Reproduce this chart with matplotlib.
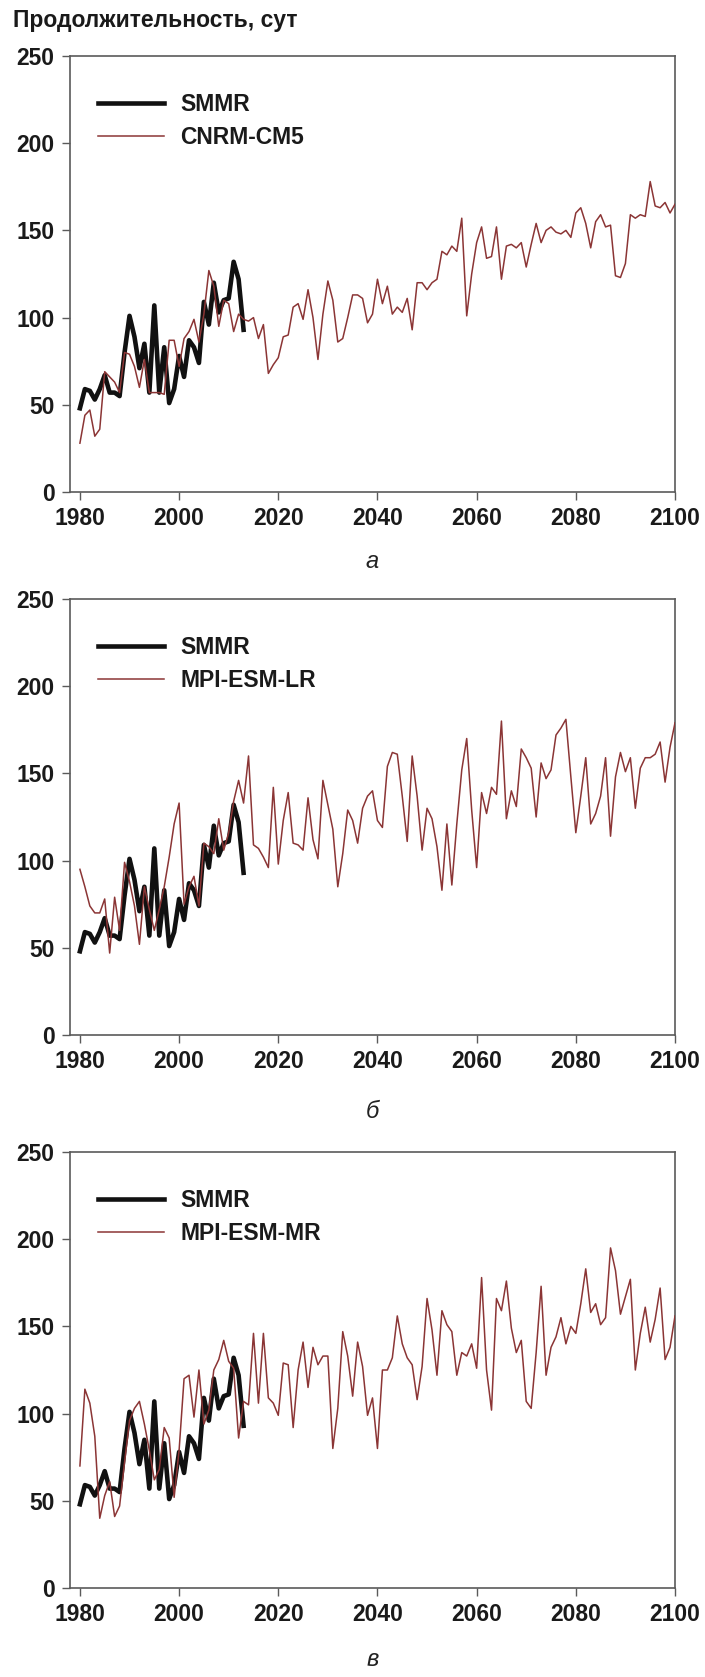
import numpy as np
import matplotlib
matplotlib.use("Agg")
import matplotlib.pyplot as plt

# =====================================
# Duration series: SMMR vs CMIP5 models
# =====================================

plt.rcParams['font.family'] = ['Liberation Sans', 'DejaVu Sans']

years_obs = np.arange(1980, 2014)
years_model = np.arange(1980, 2101)

# SMMR observations (same in all panels)
smmr = [48, 59, 58, 53, 59, 67, 57, 57, 55, 80,
        101, 89, 71, 85, 57, 107, 57, 83, 51, 59,
        78, 66, 87, 83, 74, 109, 96, 120, 103, 110,
        111, 132, 122, 93]

# CNRM-CM5
cnrm = [28, 44, 47, 32, 36, 69, 66, 63, 57, 80,
        79, 72, 60, 76, 57, 57, 57, 56, 87, 87,
        72, 88, 92, 99, 86, 102, 127, 118, 95, 110,
        108, 92, 102, 99, 98, 100, 88, 96, 68, 73,
        77, 89, 90, 106, 108, 99, 116, 100, 76, 102,
        121, 110, 86, 88, 100, 113, 113, 111, 97, 102,
        122, 108, 118, 102, 106, 103, 111, 93, 120, 120,
        116, 120, 122, 138, 136, 141, 138, 157, 101, 125,
        143, 152, 134, 135, 152, 122, 141, 142, 140, 143,
        129, 142, 154, 143, 150, 152, 149, 148, 150, 146,
        160, 163, 154, 140, 155, 159, 152, 153, 124, 123,
        131, 159, 157, 159, 158, 178, 164, 163, 166, 160,
        165]

# MPI-ESM-LR
mpi_lr = [95, 85, 74, 70, 70, 78, 47, 79, 60, 99,
          88, 74, 52, 85, 72, 60, 72, 85, 102, 121,
          133, 75, 85, 91, 74, 110, 108, 104, 124, 106,
          116, 134, 146, 133, 160, 109, 107, 102, 96, 142,
          98, 123, 139, 110, 109, 106, 136, 112, 101, 146,
          132, 118, 85, 104, 129, 123, 110, 130, 137, 140,
          123, 119, 154, 162, 161, 137, 111, 160, 137, 106,
          130, 124, 108, 83, 121, 86, 121, 152, 170, 129,
          96, 139, 127, 142, 138, 180, 124, 140, 131, 164,
          159, 153, 125, 156, 147, 152, 172, 176, 181, 148,
          116, 137, 159, 121, 127, 137, 159, 114, 148, 162,
          151, 159, 130, 153, 159, 159, 161, 168, 145, 165,
          179]

# MPI-ESM-MR
mpi_mr = [70, 114, 106, 87, 40, 53, 61, 41, 47, 72,
          96, 103, 107, 94, 79, 62, 68, 92, 86, 52,
          79, 120, 122, 98, 125, 94, 102, 125, 131, 142,
          130, 126, 86, 107, 105, 146, 106, 146, 109, 106,
          99, 129, 128, 92, 125, 141, 115, 138, 128, 133,
          133, 80, 103, 147, 133, 110, 141, 127, 99, 109,
          80, 125, 125, 132, 156, 140, 132, 128, 108, 127,
          166, 148, 122, 159, 151, 147, 122, 135, 133, 140,
          126, 178, 125, 102, 166, 159, 176, 149, 135, 142,
          107, 103, 135, 173, 122, 138, 144, 155, 140, 150,
          146, 163, 183, 158, 163, 151, 155, 195, 182, 157,
          167, 177, 125, 146, 161, 141, 154, 172, 131, 138,
          156]

panels = [
    ("CNRM-CM5", cnrm, "а"),
    ("MPI-ESM-LR", mpi_lr, "б"),
    ("MPI-ESM-MR", mpi_mr, "в"),
]

x_ticks = [1980, 2000, 2020, 2040, 2060, 2080, 2100]
y_ticks = [0, 50, 100, 150, 200, 250]

model_color = '#8b3535'
spine_color = '#5a5a5a'

W, H = 705, 1677
fig = plt.figure(figsize=(W / 100, H / 100), dpi=100)

# axes placement in pixels (top, bottom)
boxes = [(56, 492), (599, 1035), (1152, 1588)]
label_y = [562, 1112, 1660]
left_px, right_px = 70, 675

for (name, vals, letter), (top, bot), ly in zip(panels, boxes, label_y):
    ax = fig.add_axes([left_px / W, 1 - bot / H, (right_px - left_px) / W, (bot - top) / H])
    ax.plot(years_obs, smmr, color='#111111', lw=3.3, label='SMMR', zorder=2)
    ax.plot(years_model, vals, color=model_color, lw=1.1, label=name, zorder=3)

    ax.set_xlim(1978, 2100)
    ax.set_ylim(0, 250)
    ax.set_xticks(x_ticks)
    ax.set_yticks(y_ticks)
    ax.tick_params(direction='out', length=6, width=1.0, color=spine_color,
                   labelsize=16.5, pad=5)
    for lab in ax.get_xticklabels() + ax.get_yticklabels():
        lab.set_fontweight('bold')
        lab.set_color('#1a1a1a')
    for sp in ax.spines.values():
        sp.set_color(spine_color)
        sp.set_linewidth(1.2)

    leg = ax.legend(loc='upper left', bbox_to_anchor=(0.046, 0.915), frameon=False,
                    borderpad=0, borderaxespad=0, handlelength=2.9,
                    handletextpad=0.7, labelspacing=0.45,
                    prop={'weight': 'bold', 'size': 16.5})
    for t in leg.get_texts():
        t.set_color('#1a1a1a')

    fig.text((left_px + right_px) / 2 / W, 1 - ly / H, letter, ha='center', va='center',
             fontsize=17, style='italic', color='#222222')

fig.text(13 / W, 1 - 20 / H, "Продолжительность, сут", ha='left', va='center',
         fontsize=16.5, fontweight='bold', color='#1a1a1a')

plt.savefig("out.png", dpi=100)
